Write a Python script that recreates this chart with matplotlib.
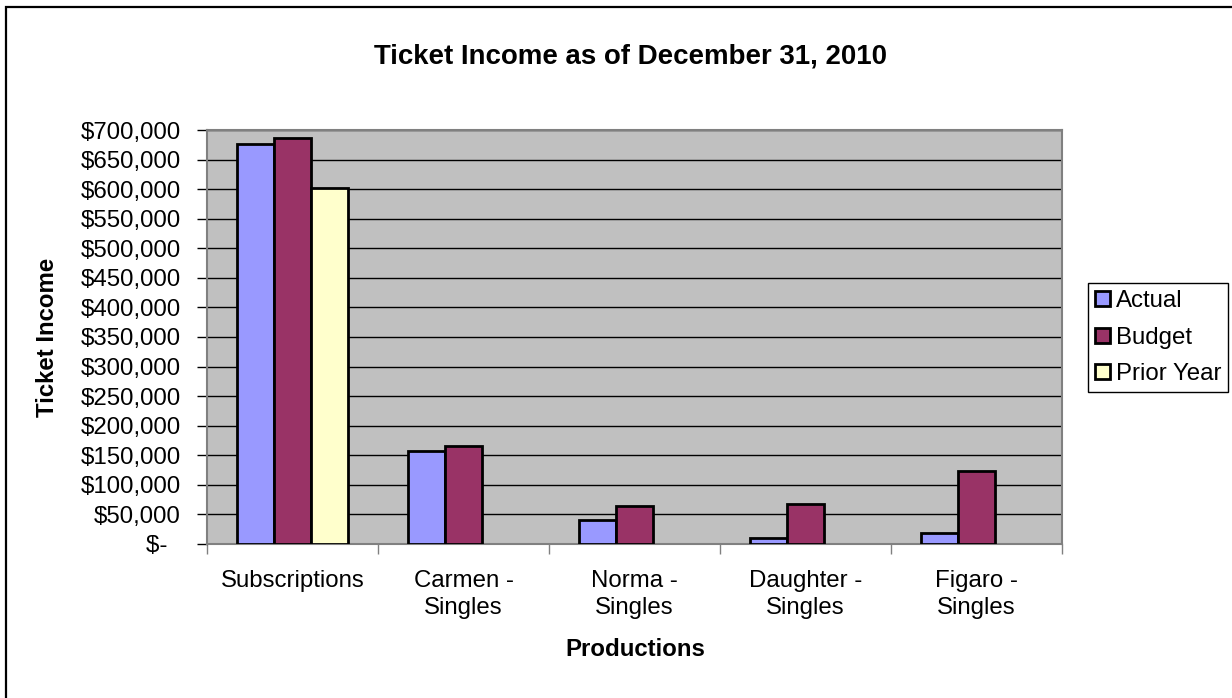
import matplotlib
matplotlib.use("Agg")
import matplotlib.pyplot as plt
import numpy as np
from matplotlib.patches import Rectangle
from matplotlib.ticker import FuncFormatter, FixedLocator

plt.rcParams['font.family'] = ['Liberation Sans', 'DejaVu Sans']

categories = ["Subscriptions", "Carmen -\nSingles", "Norma -\nSingles", "Daughter -\nSingles", "Figaro -\nSingles"]
actual = [676000, 157000, 40500, 10000, 18000]
budget = [687000, 166000, 64000, 67500, 124000]
prior_year = [601500, np.nan, np.nan, np.nan, np.nan]
series_names = ["Actual", "Budget", "Prior Year"]
colors = ["#9999FF", "#993366", "#FFFFCC"]

W, H, DPI = 1232, 698, 100
fig = plt.figure(figsize=(W / DPI, H / DPI), dpi=DPI)
fs = 24.0 * 72 / DPI

# outer chart frame (extends beyond right and bottom edges)
fig.patches.append(Rectangle((6 / W, -1), 2, 2 - 7 / H, transform=fig.transFigure,
                             fill=False, edgecolor="black", linewidth=1.6, zorder=0))

ax = fig.add_axes([207 / W, 1 - 544 / H, (1062 - 207) / W, (544 - 130) / H])
ax.set_facecolor("#C0C0C0")

x = np.arange(len(categories))
bw = 0.216
for i, (vals, name, c) in enumerate(zip([actual, budget, prior_year], series_names, colors)):
    ax.bar(x + (i - 1) * bw, vals, width=bw, color=c, edgecolor="black",
           linewidth=2.0, label=name, zorder=3)

ax.set_xlim(-0.5, len(categories) - 0.5)
ax.set_ylim(0, 700000)
ax.yaxis.set_major_locator(FixedLocator(np.arange(0, 700001, 50000)))
ax.yaxis.set_major_formatter(FuncFormatter(lambda v, p: "$-  " if v == 0 else "${:,.0f}".format(v)))
ax.grid(axis="y", color="black", linewidth=1.0, zorder=1)
ax.set_axisbelow(True)

ax.set_xticks(np.arange(-0.5, len(categories), 1.0))
ax.set_xticklabels([])
ax.set_xticks(x, minor=True)
ax.set_xticklabels(categories, minor=True, fontsize=fs, linespacing=1.25)
ax.tick_params(axis="x", which="minor", length=0, pad=19)
ax.tick_params(axis="x", which="major", length=7, width=1, color="#808080", direction="out")
ax.tick_params(axis="y", length=7, width=1, color="black", direction="out", labelsize=fs, pad=12)

for s in ["top", "right", "left", "bottom"]:
    ax.spines[s].set_color("#808080")
    ax.spines[s].set_linewidth(1.5)

fig.text(631 / W, 1 - 57 / H, "Ticket Income as of December 31, 2010", ha="center", va="center",
         fontsize=fs * 1.15, fontweight="bold")
fig.text(635 / W, 1 - 650 / H, "Productions", ha="center", va="center", fontsize=fs, fontweight="bold")
fig.text(48 / W, 1 - 337 / H, "Ticket Income", ha="center", va="center", rotation=90,
         fontsize=fs, fontweight="bold")

leg = fig.legend(loc="upper left", bbox_to_anchor=(1088 / W, 1 - 283 / H), fontsize=fs,
                 frameon=True, fancybox=False, edgecolor="black", framealpha=1,
                 handlelength=0.6, handleheight=0.6, handletextpad=0.25,
                 labelspacing=0.6, borderpad=0.3, borderaxespad=0)
leg.get_frame().set_linewidth(1.0)

fig.savefig("out.png", dpi=DPI)
